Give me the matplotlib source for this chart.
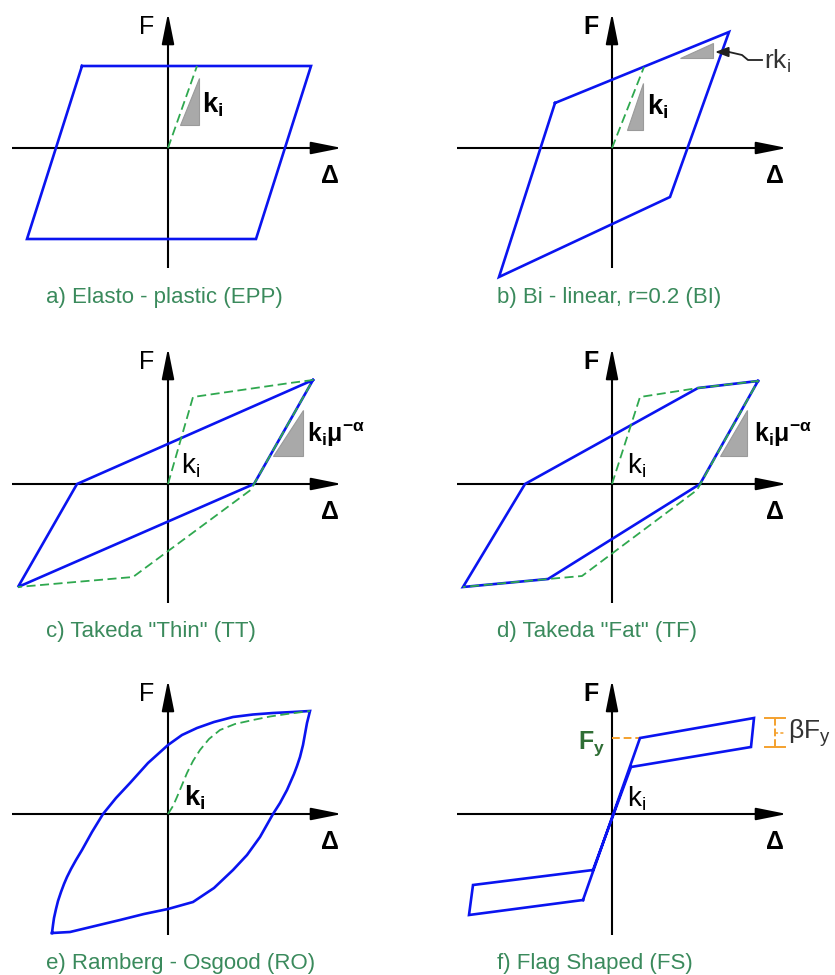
import matplotlib
matplotlib.use("Agg")
import matplotlib.pyplot as plt

plt.rcParams['font.family'] = ['Liberation Sans', 'DejaVu Sans']
plt.rcParams['mathtext.fontset'] = 'custom'
plt.rcParams['mathtext.rm'] = 'Liberation Sans'
plt.rcParams['mathtext.it'] = 'Liberation Sans'
plt.rcParams['mathtext.bf'] = 'Liberation Sans:bold'

BLUE = '#0a14f0'
GREEN = '#2fa84f'
CAPTION = '#3a8a5c'
GREY = '#a9a9a9'
ORANGE = '#f4a12e'

# ---- hysteresis loops (normalised displacement, force) ----
# a) Elasto-plastic
epp_d = [-0.86, 1.43, 0.88, -1.41, -0.86]
epp_f = [0.82, 0.82, -0.91, -0.91, 0.82]
epp_init_d = [0.0, 0.29]
epp_init_f = [0.0, 0.82]

# b) Bi-linear, r = 0.2
bl_d = [-0.57, 1.17, 0.58, -1.13, -0.57]
bl_f = [0.45, 1.16, -0.49, -1.29, 0.45]
bl_init_d = [0.0, 0.32]
bl_init_f = [0.0, 0.81]

# c) Takeda "Thin"
tt_d = [1.45, -0.91, -1.50, 0.86, 1.45]
tt_f = [1.04, 0.0, -1.03, 0.0, 1.04]
tt_init_d = [0.0, 0.25, 1.22, 1.45, 0.826, -0.35, -1.50]
tt_init_f = [0.0, 0.87, 1.01, 1.04, -0.06, -0.93, -1.03]

# d) Takeda "Fat"
tf_d = [1.46, 0.86, -0.87, -1.49, -0.64, 0.88, 1.46]
tf_f = [1.03, 0.96, 0.0, -1.03, -0.95, 0.0, 1.03]
tf_init_d = [0.0, 0.28, 0.86, 1.46, 0.85, -0.30, -0.64, -1.49]
tf_init_f = [0.0, 0.87, 0.96, 1.03, -0.06, -0.92, -0.95, -1.03]

# e) Ramberg-Osgood
ro_up_d = [-1.16, -1.15, -1.14, -1.12, -1.10, -1.07, -1.04, -1.01, -0.97, -0.92,
           -0.86, -0.76, -0.65, -0.52, -0.38, -0.20, 0.0, 0.14, 0.29, 0.46,
           0.65, 0.85, 1.05, 1.25, 1.42]
ro_up_f = [-1.19, -1.11, -1.04, -0.95, -0.87, -0.78, -0.70, -0.63, -0.55, -0.46,
           -0.36, -0.18, 0.0, 0.16, 0.31, 0.51, 0.69, 0.79, 0.86, 0.92,
           0.97, 0.995, 1.01, 1.02, 1.03]
ro_dn_d = [1.42, 1.39, 1.37, 1.35, 1.32, 1.29, 1.26, 1.19, 1.12, 1.05, 0.92, 0.79,
           0.65, 0.46, 0.25, 0.0, -0.24, -0.48, -0.73, -0.98, -1.16]
ro_dn_f = [1.03, 0.91, 0.80, 0.69, 0.57, 0.48, 0.40, 0.24, 0.11, 0.0, -0.23, -0.41,
           -0.56, -0.74, -0.88, -0.95, -1.00, -1.06, -1.12, -1.18, -1.19]
ro_init_d = [0.0, 0.05, 0.09, 0.14, 0.19, 0.25, 0.32, 0.41, 0.52, 0.67, 0.85, 1.02,
             1.19, 1.42]
ro_init_f = [0.0, 0.08, 0.17, 0.29, 0.41, 0.53, 0.64, 0.75, 0.84, 0.90, 0.94, 0.975,
             1.00, 1.03]

# f) Flag shaped
fs_d = [-0.29, 0.28, 1.42, 1.39, 0.19, -0.19, -1.39, -1.43, -0.29]
fs_f = [-0.86, 0.76, 0.96, 0.67, 0.47, -0.56, -0.71, -1.01, -0.86]
fs_fy = 0.76
fs_fy_d = 0.28
fs_beta_top = 0.96
fs_beta_bot = 0.67

captions = ['a) Elasto - plastic (EPP)', 'b) Bi - linear, r=0.2 (BI)',
            'c) Takeda "Thin" (TT)', 'd) Takeda "Fat" (TF)',
            'e) Ramberg - Osgood (RO)', 'f) Flag Shaped (FS)']

# ---- layout helpers (pixel boxes, 100 px per unit) ----
W, H = 835, 975
fig = plt.figure(figsize=(W / 100, H / 100), dpi=100)
fig.patch.set_facecolor('white')


def panel(box, origin):
    x0, y0, w, h = box
    ox, oy = origin
    ax = fig.add_axes([x0 / W, 1 - (y0 + h) / H, w / W, h / H])
    ax.set_xlim((x0 - ox) / 100, (x0 + w - ox) / 100)
    ax.set_ylim((oy - (y0 + h)) / 100, (oy - y0) / 100)
    ax.axis('off')
    return ax


def axes_cross(ax, xl, xr, yb, yt, bold_f):
    ax.plot([xl, xr - 0.1], [0, 0], color='black', lw=1.5, zorder=1, solid_capstyle='butt')
    ax.plot([0, 0], [yb, yt - 0.1], color='black', lw=1.5, zorder=1, solid_capstyle='butt')
    ap = dict(arrowstyle='-|>,head_length=1.9,head_width=0.38', mutation_scale=10,
              color='black', lw=1.4, shrinkA=0, shrinkB=0)
    ax.annotate('', xy=(xr, 0), xytext=(xr - 0.3, 0), arrowprops=ap)
    ax.annotate('', xy=(0, yt), xytext=(0, yt - 0.3), arrowprops=ap)
    ax.text(-0.21, yt - 0.14, 'F', fontsize=18, ha='center', va='center',
            fontweight='bold' if bold_f else 'normal')
    ax.text(xr - 0.12, -0.28, 'Δ', fontsize=18, fontweight='bold',
            ha='center', va='center')


def tri(ax, pts):
    xs = [p[0] for p in pts]
    ys = [p[1] for p in pts]
    ax.fill(xs, ys, facecolor=GREY, edgecolor='#9a9a9a', lw=0.8, zorder=2)


def caption(ax, x, y, s):
    ax.text(x, y, s, fontsize=16, color=CAPTION, ha='left', va='center')


blue_kw = dict(color=BLUE, lw=1.9, zorder=4, solid_joinstyle='miter')
green_kw = dict(color=GREEN, lw=1.3, ls=(0, (5, 2.5)), zorder=5)
KFS = 20

# a) EPP
ax = panel((0, 0, 418, 320), (168, 148))
axes_cross(ax, -1.56, 1.74, -1.20, 1.35, False)
ax.plot(epp_d, epp_f, **blue_kw)
ax.plot(epp_init_d, epp_init_f, **green_kw)
tri(ax, [(0.12, 0.23), (0.31, 0.23), (0.31, 0.70)])
ax.text(0.34, 0.43, r'$\mathbf{k_i}$', fontsize=KFS, ha='left', va='center')
caption(ax, -1.22, -1.49, captions[0])

# b) BI
ax = panel((418, 0, 417, 320), (612, 148))
axes_cross(ax, -1.55, 1.75, -1.20, 1.35, True)
ax.plot(bl_d, bl_f, **blue_kw)
ax.plot(bl_init_d, bl_init_f, **green_kw)
tri(ax, [(0.15, 0.18), (0.31, 0.18), (0.31, 0.65)])
ax.text(0.35, 0.41, r'$\mathbf{k_i}$', fontsize=KFS, ha='left', va='center')
tri(ax, [(0.68, 0.90), (1.01, 0.90), (1.01, 1.05)])
ax.plot([1.50, 1.36, 1.30, 1.17], [0.88, 0.88, 0.93, 0.96], color='#222222', lw=1.3,
        zorder=6)
ax.annotate('', xy=(1.03, 0.96), xytext=(1.17, 0.96),
            arrowprops=dict(arrowstyle='-|>,head_length=0.8,head_width=0.3',
                            mutation_scale=10, color='#222222', lw=1.3,
                            shrinkA=0, shrinkB=0), zorder=6)
ax.text(1.52, 0.87, r'$\mathrm{rk_i}$', fontsize=19, ha='left', va='center',
        color='#333333')
caption(ax, -1.15, -1.49, captions[1])

# c) TT
ax = panel((0, 320, 418, 330), (168, 484))
axes_cross(ax, -1.56, 1.74, -1.19, 1.36, False)
ax.plot(tt_d, tt_f, **blue_kw)
ax.plot(tt_init_d, tt_init_f, **green_kw)
tri(ax, [(1.05, 0.28), (1.35, 0.28), (1.35, 0.74)])
ax.text(1.39, 0.49, r'$\mathbf{k_i\mu^{-\alpha}}$', fontsize=18, ha='left', va='center')
ax.text(0.13, 0.18, r'$\mathrm{k_i}$', fontsize=KFS, ha='left', va='center')
caption(ax, -1.22, -1.48, captions[2])

# d) TF
ax = panel((418, 320, 417, 330), (612, 484))
axes_cross(ax, -1.55, 1.75, -1.19, 1.36, True)
ax.plot(tf_d, tf_f, **blue_kw)
ax.plot(tf_init_d, tf_init_f, **green_kw)
tri(ax, [(1.08, 0.28), (1.35, 0.28), (1.35, 0.74)])
ax.text(1.42, 0.49, r'$\mathbf{k_i\mu^{-\alpha}}$', fontsize=18, ha='left', va='center')
ax.text(0.15, 0.18, r'$\mathrm{k_i}$', fontsize=KFS, ha='left', va='center')
caption(ax, -1.15, -1.48, captions[3])

# e) RO
ax = panel((0, 650, 418, 325), (168, 814))
axes_cross(ax, -1.56, 1.74, -1.21, 1.34, False)
ax.plot(ro_up_d + ro_dn_d, ro_up_f + ro_dn_f, **blue_kw)
ax.plot(ro_init_d, ro_init_f, **green_kw)
ax.text(0.16, 0.16, r'$\mathbf{k_i}$', fontsize=KFS, ha='left', va='center')
caption(ax, -1.22, -1.49, captions[4])

# f) FS
ax = panel((418, 650, 417, 325), (612, 814))
axes_cross(ax, -1.55, 1.75, -1.21, 1.34, True)
ax.plot(fs_d, fs_f, **blue_kw)
ax.plot([0, fs_fy_d], [fs_fy, fs_fy], color=ORANGE, lw=1.4, ls=(0, (4, 2)), zorder=3)
ax.text(-0.07, 0.70, r'$\mathbf{F_y}$', fontsize=18, color='#2f6e35',
        ha='right', va='center')
ax.text(0.15, 0.15, r'$\mathrm{k_i}$', fontsize=KFS, ha='left', va='center')
bx = 1.63
ax.plot([bx - 0.10, bx + 0.10], [fs_beta_top, fs_beta_top], color=ORANGE, lw=1.4)
ax.plot([bx - 0.10, bx + 0.10], [fs_beta_bot, fs_beta_bot], color=ORANGE, lw=1.4)
ax.plot([bx, bx], [fs_beta_bot, fs_beta_top], color=ORANGE, lw=1.4, ls=(0, (4, 1.5)))
mid = (fs_beta_top + fs_beta_bot) / 2
ax.plot([bx, bx + 0.10], [mid, mid], color=ORANGE, lw=1.1, ls=(0, (2, 1.5)))
ax.text(1.76, 0.81, r'$\mathrm{\beta F_y}$', fontsize=19, ha='left', va='center',
        color='#333333')
caption(ax, -1.15, -1.49, captions[5])

fig.savefig('out.png', dpi=100, facecolor='white')
